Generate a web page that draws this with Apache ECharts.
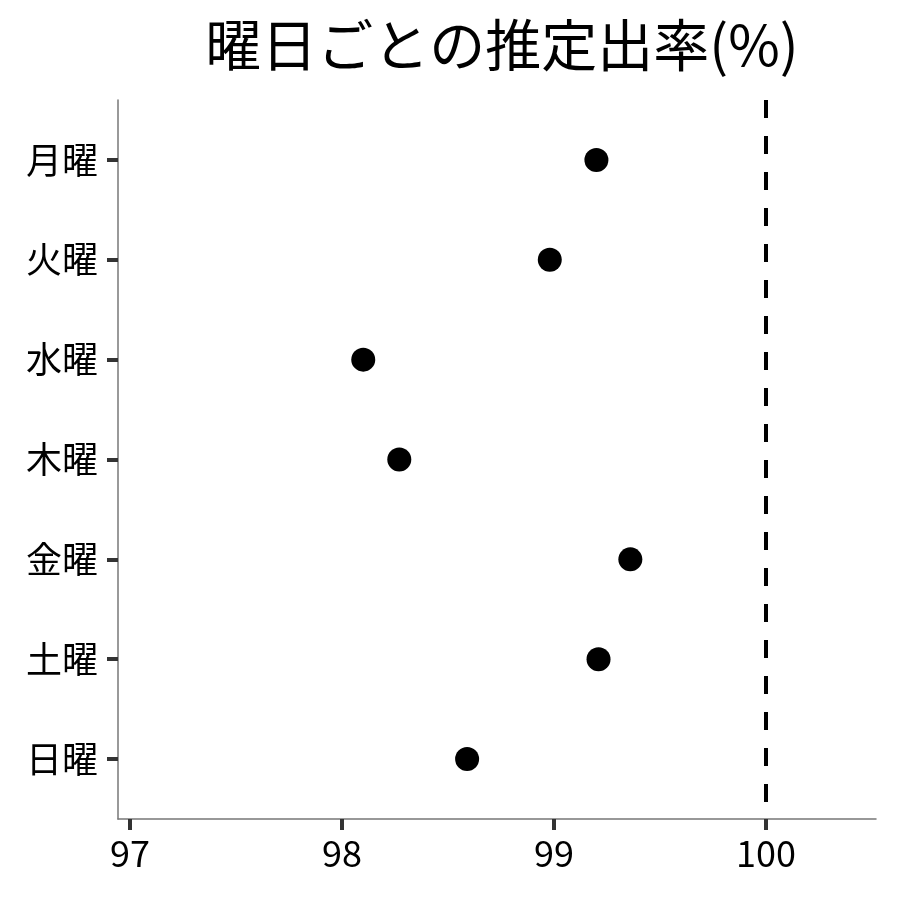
<!DOCTYPE html>
<html>
<head>
<meta charset="utf-8">
<script src="https://cdn.jsdelivr.net/npm/echarts@6/dist/echarts.min.js"></script>
<style>
  html, body { margin: 0; padding: 0; background: #fff; }
  #chart { width: 900px; height: 900px; }
</style>
</head>
<body>
<div id="chart"></div>
<script>
// 曜日ごとの推定出率
var days = ['月曜', '火曜', '水曜', '木曜', '金曜', '土曜', '日曜']
var rates = [99.20, 98.98, 98.10, 98.27, 99.36, 99.21, 98.59]
var xTicks = [97, 98, 99, 100]
var refLine = 100

var font = '"Noto Sans CJK JP", "Noto Sans", sans-serif'
var chart = echarts.init(document.getElementById('chart'), null, { renderer: 'canvas' })

var points = rates.map(function (v, i) { return [v, i] })
var dayIdx = days.map(function (d, i) { return i })

chart.setOption({
  animation: false,
  backgroundColor: '#fff',
  title: {
    text: '曜日ごとの推定出率(%)',
    left: 497,
    top: 12,
    textAlign: 'center',
    textStyle: { fontFamily: font, fontSize: 56, fontWeight: 'normal', color: '#000' }
  },
  grid: { left: 118, right: 24, top: 100, bottom: 81 },
  xAxis: {
    type: 'value',
    min: 96.943,
    max: 100.519,
    splitLine: { show: false },
    axisLine: { show: true, onZero: false, lineStyle: { color: '#777', width: 1.5 } },
    axisTick: { show: true, customValues: xTicks, length: 11, lineStyle: { color: '#333', width: 4 } },
    axisLabel: {
      customValues: xTicks,
      fontFamily: font, fontSize: 36, color: '#000', margin: 16
    }
  },
  yAxis: {
    type: 'value',
    inverse: true,
    min: -0.6,
    max: days.length - 0.4,
    splitLine: { show: false },
    axisLine: { show: true, onZero: false, lineStyle: { color: '#777', width: 1.5 } },
    axisTick: { show: true, customValues: dayIdx, length: 11, lineStyle: { color: '#333', width: 4 } },
    axisLabel: {
      customValues: dayIdx,
      formatter: function (v) { return days[Math.round(v)] },
      fontFamily: font, fontSize: 36, color: '#000', margin: 20
    }
  },
  series: [{
    type: 'scatter',
    data: points,
    symbolSize: 24,
    itemStyle: { color: '#000', opacity: 1 },
    markLine: {
      silent: true,
      symbol: 'none',
      label: { show: false },
      lineStyle: { color: '#000', width: 4, type: [18, 18], opacity: 1 },
      data: [{ xAxis: refLine }]
    }
  }]
})
</script>
</body>
</html>
